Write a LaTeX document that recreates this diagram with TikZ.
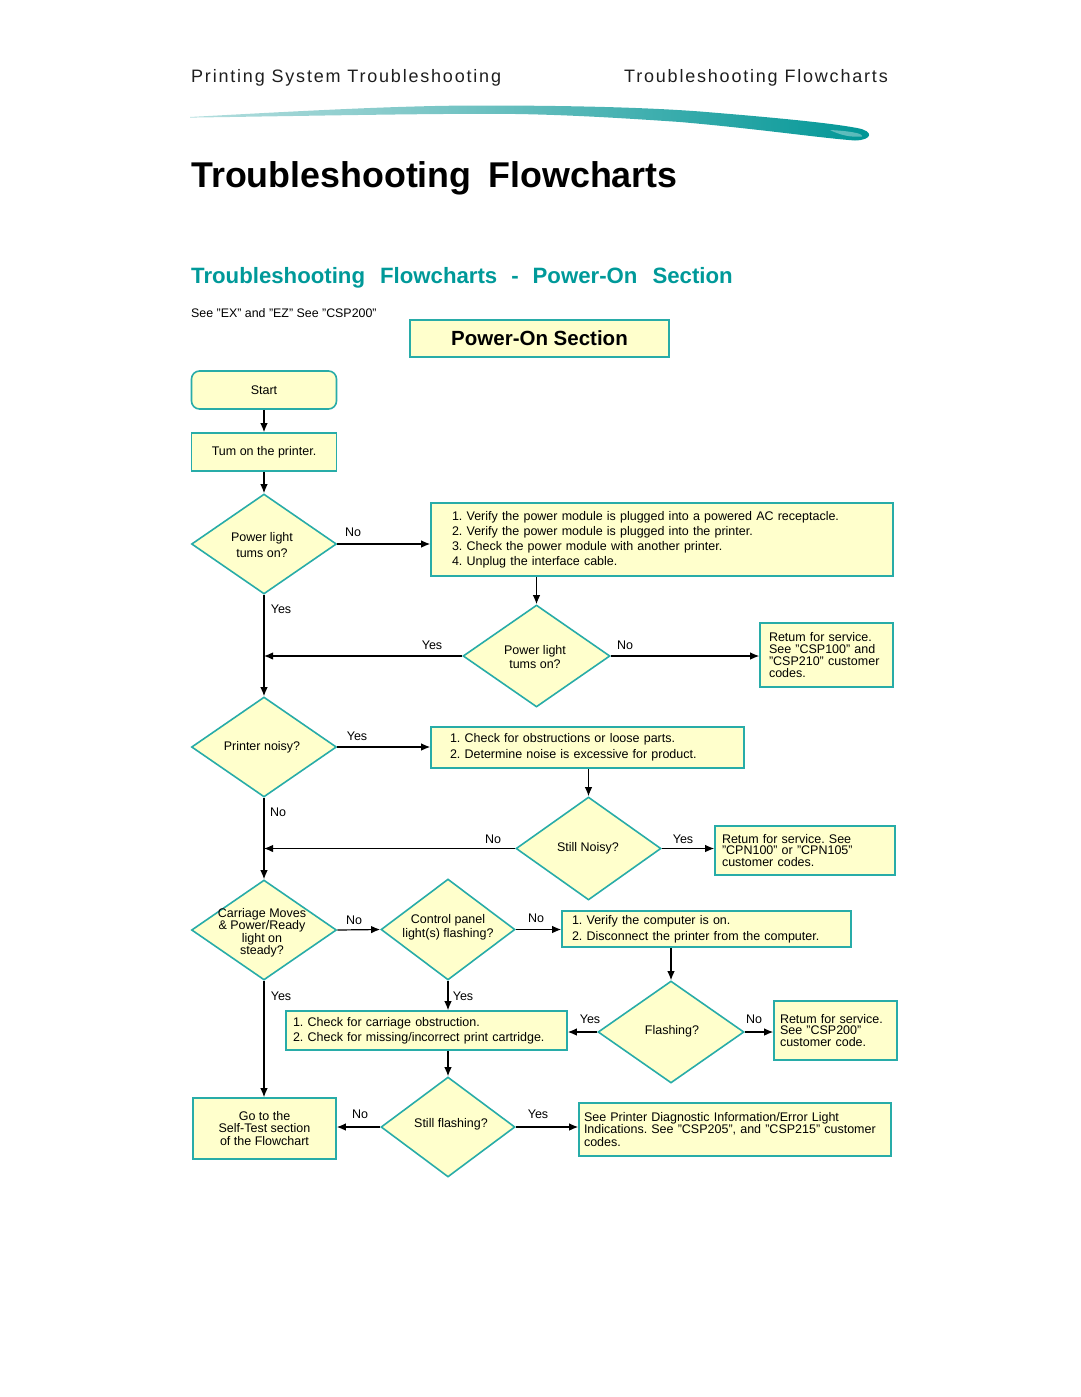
\documentclass[tikz,border=0pt]{standalone}
\usepackage{fontspec}
\setmainfont{Liberation Sans}
\newfontfamily\hdrfont[LetterSpace=10]{Liberation Sans}
\usetikzlibrary{shapes.geometric,arrows.meta,calc}
\definecolor{bord}{RGB}{40,172,168}
\definecolor{fillc}{RGB}{255,255,204}
\definecolor{tealt}{RGB}{0,153,153}
\definecolor{swA}{RGB}{140,205,205}
\definecolor{swB}{RGB}{0,150,150}
\definecolor{hdrc}{RGB}{30,30,30}
\pgfdeclarehorizontalshading{swoosh}{100bp}{color(0bp)=(white); color(15bp)=(white!60!swA); color(38bp)=(swA); color(55bp)=(swA!55!swB); color(75bp)=(swB); color(100bp)=(swB)}
\newcommand\myfs[2]{\fontsize{#1}{#2}\selectfont}
\tikzset{
  box/.style={draw=bord, fill=fillc, line width=1.6pt, inner ysep=0pt, align=left, font=\myfs{12.5}{15}},
  dia/.style={diamond, draw=bord, fill=fillc, line width=1.6pt, inner sep=0pt},
  dtxt/.style={align=center, font=\myfs{12.5}{15}, inner sep=0pt},
  arr/.style={-{Latex[length=9pt,width=7.5pt]}, line width=1.2pt},
  lbl/.style={font=\myfs{12.5}{15}, inner sep=0pt},
}
\frenchspacing
\begin{document}
\frenchspacing
\begin{tikzpicture}[x=1pt,y=-1pt]
\useasboundingbox (0,0) rectangle (1080,1397);
% header
\node[anchor=base west, inner sep=0, text=hdrc, font=\hdrfont\myfs{18}{20}] (hl) at (191,82) {Printing System Troubleshooting};
\node[anchor=base east, inner sep=0, text=hdrc, font=\hdrfont\myfs{18}{20}] (hr) at (888,82) {Troubleshooting Flowcharts};
% swoosh
\shade[shading=swoosh] (190,117) .. controls (300,111) and (400,105.5) .. (480,105.5) .. controls (560,105.5) and (640,107) .. (700,111.5) .. controls (780,118) and (830,123) .. (857,128) .. controls (874,131) and (873,140) .. (855,140.5) .. controls (820,138) and (760,129) .. (680,122) .. controls (600,116.5) and (540,113.5) .. (480,113.8) .. controls (400,114) and (300,116) .. (190,117.6) -- cycle;
\fill[white, opacity=0.35] (830,130) .. controls (848,131) and (863,133) .. (862,136.5) .. controls (850,137.5) and (840,135) .. (830,130) -- cycle;
% titles
\node[anchor=base west, inner sep=0, font=\bfseries\myfs{35.8}{40}] (title) at (191,187) {Troubleshooting\hspace{17pt}Flowcharts};
\node[anchor=base west, inner sep=0, text=tealt, font=\bfseries\myfs{22.2}{26}] (sub) at (191,283) {Troubleshooting\hspace{15pt}Flowcharts\hspace{14pt}-\hspace{14pt}Power-On\hspace{15pt}Section};
\node[anchor=base west, inner sep=0, font=\myfs{12.4}{15}] (see) at (191,317) {See "EX" and "EZ" See "CSP200"};
\node[draw=bord, fill=fillc, line width=2pt, minimum width=259pt, minimum height=37pt, font=\bfseries\myfs{20.5}{24}] (pos) at (539.5,338.5) {Power-On Section};
% left column
\node[box, rounded corners=8pt, minimum width=145pt, minimum height=38pt, align=center] (start) at (264,390) {Start};
\node[box, minimum width=145pt, minimum height=38pt, align=center] (turn) at (264,452) {Tum on the printer.};
\node[dia, minimum width=145pt, minimum height=100pt] (d1) at (264,544) {};
\node[dtxt, font=\myfs{12.5}{16}] (t1) at (262,545) {Power light\\tums on?};
\node[box, minimum width=462pt, minimum height=73pt, text width=420pt, inner xsep=21pt] (bA) at (662,539.5) {1. Verify the power module is plugged into a powered AC receptacle.\\2. Verify the power module is plugged into the printer.\\3. Check the power module with another printer.\\4. Unplug the interface cable.};
\node[dia, minimum width=147pt, minimum height=102pt] (d2) at (536.5,656) {};
\node[dtxt, font=\myfs{12.5}{14}] (t2) at (535,657) {Power light\\tums on?};
\node[box, minimum width=133pt, minimum height=64pt, text width=115pt, inner xsep=9pt, font=\myfs{12.5}{12}] (bB) at (826.5,655) {Retum for service.\\See "CSP100" and\\"CSP210" customer\\codes.};
\node[dia, minimum width=145pt, minimum height=100pt] (d3) at (264,747) {};
\node[dtxt] (t3) at (262,747) {Printer noisy?};
\node[box, minimum width=313pt, minimum height=41pt, text width=275pt, inner xsep=19pt, font=\myfs{12.5}{16}] (bC) at (587.5,747.5) {1. Check for obstructions or loose parts.\\2. Determine noise is excessive for product.};
\node[dia, minimum width=145pt, minimum height=103pt] (d4) at (588.5,848.5) {};
\node[dtxt] (t4) at (588,848) {Still Noisy?};
\node[box, minimum width=180pt, minimum height=49pt, text width=166pt, inner xsep=7pt, font=\myfs{12.5}{11.5}] (bD) at (805,850.5) {Retum for service. See\\"CPN100" or "CPN105"\\customer codes.};
\node[dia, minimum width=145pt, minimum height=100pt] (d5) at (264,930) {};
\node[dtxt, font=\myfs{12.5}{12.5}] (t5) at (262,933) {Carriage Moves\\\& Power/Ready\\light on\\steady?};
\node[dia, minimum width=134pt, minimum height=101pt] (d6) at (448,929.5) {};
\node[dtxt, font=\myfs{12.5}{14}] (t6) at (448,927) {Control panel\\light(s) flashing?};
\node[box, minimum width=289pt, minimum height=36pt, text width=269pt, inner xsep=10pt, font=\myfs{12.5}{16}] (bE) at (706.5,929) {1. Verify the computer is on.\\2. Disconnect the printer from the computer.};
\node[dia, minimum width=146pt, minimum height=102pt] (d7) at (671,1032) {};
\node[dtxt] (t7) at (672,1031) {Flashing?};
\node[box, minimum width=123pt, minimum height=59pt, text width=111pt, inner xsep=6pt, font=\myfs{12.5}{11.5}] (bG) at (835.5,1030.5) {Retum for service.\\See "CSP200"\\customer code.};
\node[box, minimum width=281pt, minimum height=39pt, text width=267pt, inner xsep=7pt, font=\myfs{12.5}{15}] (bF) at (426.5,1030.5) {1. Check for carriage obstruction.\\2. Check for missing/incorrect print cartridge.};
\node[dia, minimum width=134pt, minimum height=100pt] (d8) at (448,1127) {};
\node[dtxt] (t8) at (451,1124) {Still flashing?};
\node[box, minimum width=143pt, minimum height=61pt, align=center, font=\myfs{12.5}{12.5}] (bH) at (264.5,1128.5) {Go to the\\Self-Test section\\of the Flowchart};
\node[box, minimum width=312pt, minimum height=53pt, text width=302pt, inner xsep=5pt, font=\myfs{12.5}{12.5}] (bI) at (735,1129.5) {See Printer Diagnostic Information/Error Light\\Indications. See "CSP205", and "CSP215" customer\\codes.};
% connectors
\draw[arr] (start) -- (turn);
\draw[arr] (turn) -- (d1);
\draw[arr] (d1.east) -- (d1.east -| bA.west);
\draw[arr] (d1.south) -- (d3.north);
\draw[arr] (d2.north |- bA.south) -- (d2.north);
\draw[arr] (d2.west) -- (d2.west -| d1.south);
\draw[arr] (d2.east) -- (d2.east -| bB.west);
\draw[arr] (d3.east) -- (d3.east -| bC.west);
\draw[arr] (d4.north |- bC.south) -- (d4.north);
\draw[arr] (d4.west) -- (d4.west -| d3.south);
\draw[arr] (d4.east) -- (d4.east -| bD.west);
\draw[arr] (d3.south) -- (d5.north);
\draw[arr] (d5.east) -- (d6.west);
\draw[arr] (d6.east) -- (d6.east -| bE.west);
\draw[arr] (d7.north |- bE.south) -- (d7.north);
\draw[arr] (d7.west) -- (d7.west -| bF.east);
\draw[arr] (d7.east) -- (d7.east -| bG.west);
\draw[arr] (d6.south) -- (d6.south |- bF.north);
\draw[arr] (d8.north |- bF.south) -- (d8.north);
\draw[arr] (d8.west) -- (d8.west -| bH.east);
\draw[arr] (d8.east) -- (d8.east -| bI.west);
\draw[arr] (d5.south) -- (d5.south |- bH.north);
% labels
\node[lbl] (l1) at (353,532) {No};
\node[lbl] (l2) at (281,609) {Yes};
\node[lbl] (l3) at (432,645) {Yes};
\node[lbl] (l4) at (625,645) {No};
\node[lbl] (l5) at (357,736) {Yes};
\node[lbl] (l6) at (278,812) {No};
\node[lbl] (l7) at (493,839) {No};
\node[lbl] (l8) at (683,839) {Yes};
\node[lbl] (l9) at (354,920) {No};
\node[lbl] (l10) at (536,918) {No};
\node[lbl] (l11) at (281,996) {Yes};
\node[lbl] (l12) at (463,996) {Yes};
\node[lbl] (l13) at (590,1019) {Yes};
\node[lbl] (l14) at (754,1019) {No};
\node[lbl] (l15) at (360,1114) {No};
\node[lbl] (l16) at (538,1114) {Yes};
\end{tikzpicture}
\end{document}
